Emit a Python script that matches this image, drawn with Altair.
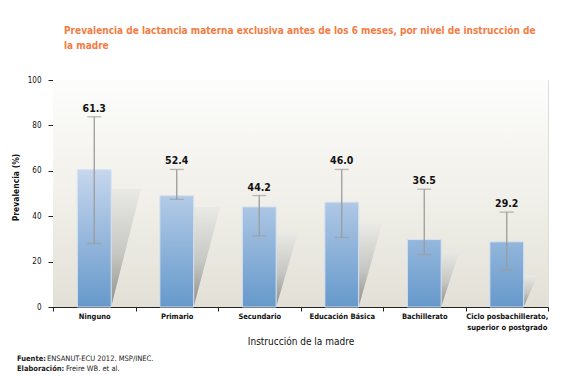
import altair as alt
import pandas as pd

categorias = ["Ninguno", "Primario", "Secundario", "Educación Básica", "Bachillerato",
              "Ciclo posbachillerato,|superior o postgrado"]
barras = [60.5, 49.0, 44.1, 46.2, 29.7, 28.7]
etiquetas = ["61.3", "52.4", "44.2", "46.0", "36.5", "29.2"]
ic_inf = [28.0, 47.4, 31.3, 30.6, 23.1, 16.2]
ic_sup = [83.8, 60.6, 49.1, 60.6, 51.9, 41.8]
sombra = [52.0, 44.0, 33.0, 36.6, 24.7, 14.1]

FONT = "DejaVu Sans Condensed, Liberation Sans"
W, H = 495, 227

df = pd.DataFrame({"cat": categorias, "valor": barras, "etiqueta": etiquetas,
                   "inf": ic_inf, "sup": ic_sup})

xband = alt.X("cat:N", sort=categorias,
              scale=alt.Scale(domain=categorias, paddingInner=0, paddingOuter=0),
              axis=alt.Axis(title="Instrucción de la madre", labelAngle=0,
                            labelExpr="split(datum.label, '|')",
                            tickBand="extent", tickSize=4, tickColor="#222",
                            domainColor="#222", labelFont=FONT, labelFontSize=7.5,
                            labelFontWeight="bold", labelColor="#111", labelPadding=1,
                            labelLineHeight=11,
                            titleFont=FONT, titleFontSize=10, titleFontWeight="normal",
                            titleColor="#111", titlePadding=6))
yscale = alt.Scale(domain=[0, 100], nice=False)
yaxis = alt.Axis(title="Prevalencia (%)", values=[0, 20, 40, 60, 80, 100],
                 grid=False, tickSize=5, tickColor="#222", domainColor="#222",
                 labelFont=FONT, labelFontSize=8, labelColor="#111",
                 labelPadding=7, titleFont=FONT, titleFontSize=8.5,
                 titleFontWeight="bold", titleColor="#111",
                 titleX=-33, titleY=107)


def hexlerp(c0, c1, t):
    t = max(0.0, min(1.0, t))
    a = [int(c0[i:i + 2], 16) for i in (1, 3, 5)]
    b = [int(c1[i:i + 2], 16) for i in (1, 3, 5)]
    return "#" + "".join(f"{round(a[k] + (b[k] - a[k]) * t):02x}" for k in range(3))


BOT, TOP = "#6699cb", "#c8d8ee"

# background of the plot area
bg = alt.Chart(alt.Data(values=[{}])).mark_rect(
    color=alt.LinearGradient(gradient="linear", x1=0, x2=0, y1=0, y2=1,
                             stops=[alt.GradientStop(color="#fdfdfc", offset=0),
                                    alt.GradientStop(color="#f1f0ea", offset=0.5),
                                    alt.GradientStop(color="#e2e0d6", offset=1)])
).encode(x=alt.value(0), x2=alt.value(W), y=alt.value(0), y2=alt.value(H))

# decorative shadows (quantitative x aligned with the bands)
rows = []
for i, (c, h) in enumerate(zip(categorias, sombra)):
    x0 = i + 0.705
    w = (8 + 0.42 * h) / (W / 6)
    rows.append({"cat": c, "x": x0, "y": 0, "y2": h})
    rows.append({"cat": c, "x": x0 + w, "y": h, "y2": h})
sh = alt.Chart(pd.DataFrame(rows)).mark_area(
    interpolate="linear",
    color=alt.LinearGradient(gradient="linear", x1=0, x2=0, y1=0, y2=1,
                             stops=[alt.GradientStop(color="#e9e9e5", offset=0),
                                    alt.GradientStop(color="#c6c6c3", offset=0.55),
                                    alt.GradientStop(color="#8e8e8c", offset=1)])
).encode(x=alt.X("x:Q", scale=alt.Scale(domain=[0, 6], nice=False, zero=False), axis=None),
         y=alt.Y("y:Q", scale=yscale, axis=yaxis), y2="y2:Q", detail="cat:N")

layers = []
for c, v in zip(categorias, barras):
    top = hexlerp(BOT, TOP, v / 62.0)
    layers.append(
        alt.Chart(df).transform_filter(alt.datum.cat == c).mark_bar(
            width=alt.RelativeBandSize(0.41), stroke="#d6e2f1", strokeWidth=1,
            color=alt.LinearGradient(gradient="linear", x1=0, x2=0, y1=0, y2=1,
                                     stops=[alt.GradientStop(color=top, offset=0),
                                            alt.GradientStop(color=BOT, offset=1)])
        ).encode(x=xband, y=alt.Y("valor:Q", scale=yscale, axis=yaxis))
    )

base = alt.Chart(df).encode(x=xband)
err = base.mark_rule(color="#9c9c9c", strokeWidth=1.3).encode(
    y=alt.Y("inf:Q", scale=yscale, axis=yaxis), y2="sup:Q")
cap_lo = base.mark_tick(color="#9c9c9c", size=14, thickness=1.3).encode(
    y=alt.Y("inf:Q", scale=yscale, axis=yaxis))
cap_hi = base.mark_tick(color="#9c9c9c", size=14, thickness=1.3).encode(
    y=alt.Y("sup:Q", scale=yscale, axis=yaxis))
lab = base.mark_text(baseline="bottom", dy=-3, font=FONT, fontSize=10.5,
                     fontWeight="bold", color="#111").encode(
    y=alt.Y("sup:Q", scale=yscale, axis=yaxis), text="etiqueta:N")

band_layers = alt.layer(*layers, err, cap_lo, cap_hi, lab)

one = alt.Data(values=[{}])
foot = [
    alt.Chart(one).mark_text(text="Fuente:", font=FONT, fontSize=7.5, fontWeight="bold",
                             align="left", baseline="middle", color="#222")
    .encode(x=alt.value(-36), y=alt.value(278.5)),
    alt.Chart(one).mark_text(text="ENSANUT-ECU 2012. MSP/INEC.", font=FONT, fontSize=7.5,
                             align="left", baseline="middle", color="#222")
    .encode(x=alt.value(-6), y=alt.value(278.5)),
    alt.Chart(one).mark_text(text="Elaboración:", font=FONT, fontSize=7.5, fontWeight="bold",
                             align="left", baseline="middle", color="#222")
    .encode(x=alt.value(-36), y=alt.value(289)),
    alt.Chart(one).mark_text(text="Freire WB. et al.", font=FONT, fontSize=7.5,
                             align="left", baseline="middle", color="#222")
    .encode(x=alt.value(13), y=alt.value(289)),
]

chart = alt.layer(bg, sh, band_layers, *foot).resolve_scale(x="independent").properties(
    width=W, height=H,
    title=alt.TitleParams(
        text=["Prevalencia de lactancia materna exclusiva antes de los 6 meses, por nivel de instrucción de",
              "la madre"],
        anchor="start", frame="group", dx=11, offset=25, font=FONT, fontSize=10,
        fontWeight="bold", color="#f47c44", lineHeight=15, limit=600),
    autosize=alt.AutoSizeParams(type="none"),
    padding={"left": 53, "top": 80, "right": 19, "bottom": 70},
).configure_view(stroke=None).configure(background="white")

chart.save("out.html", embed_options={"renderer": "svg", "actions": False})
